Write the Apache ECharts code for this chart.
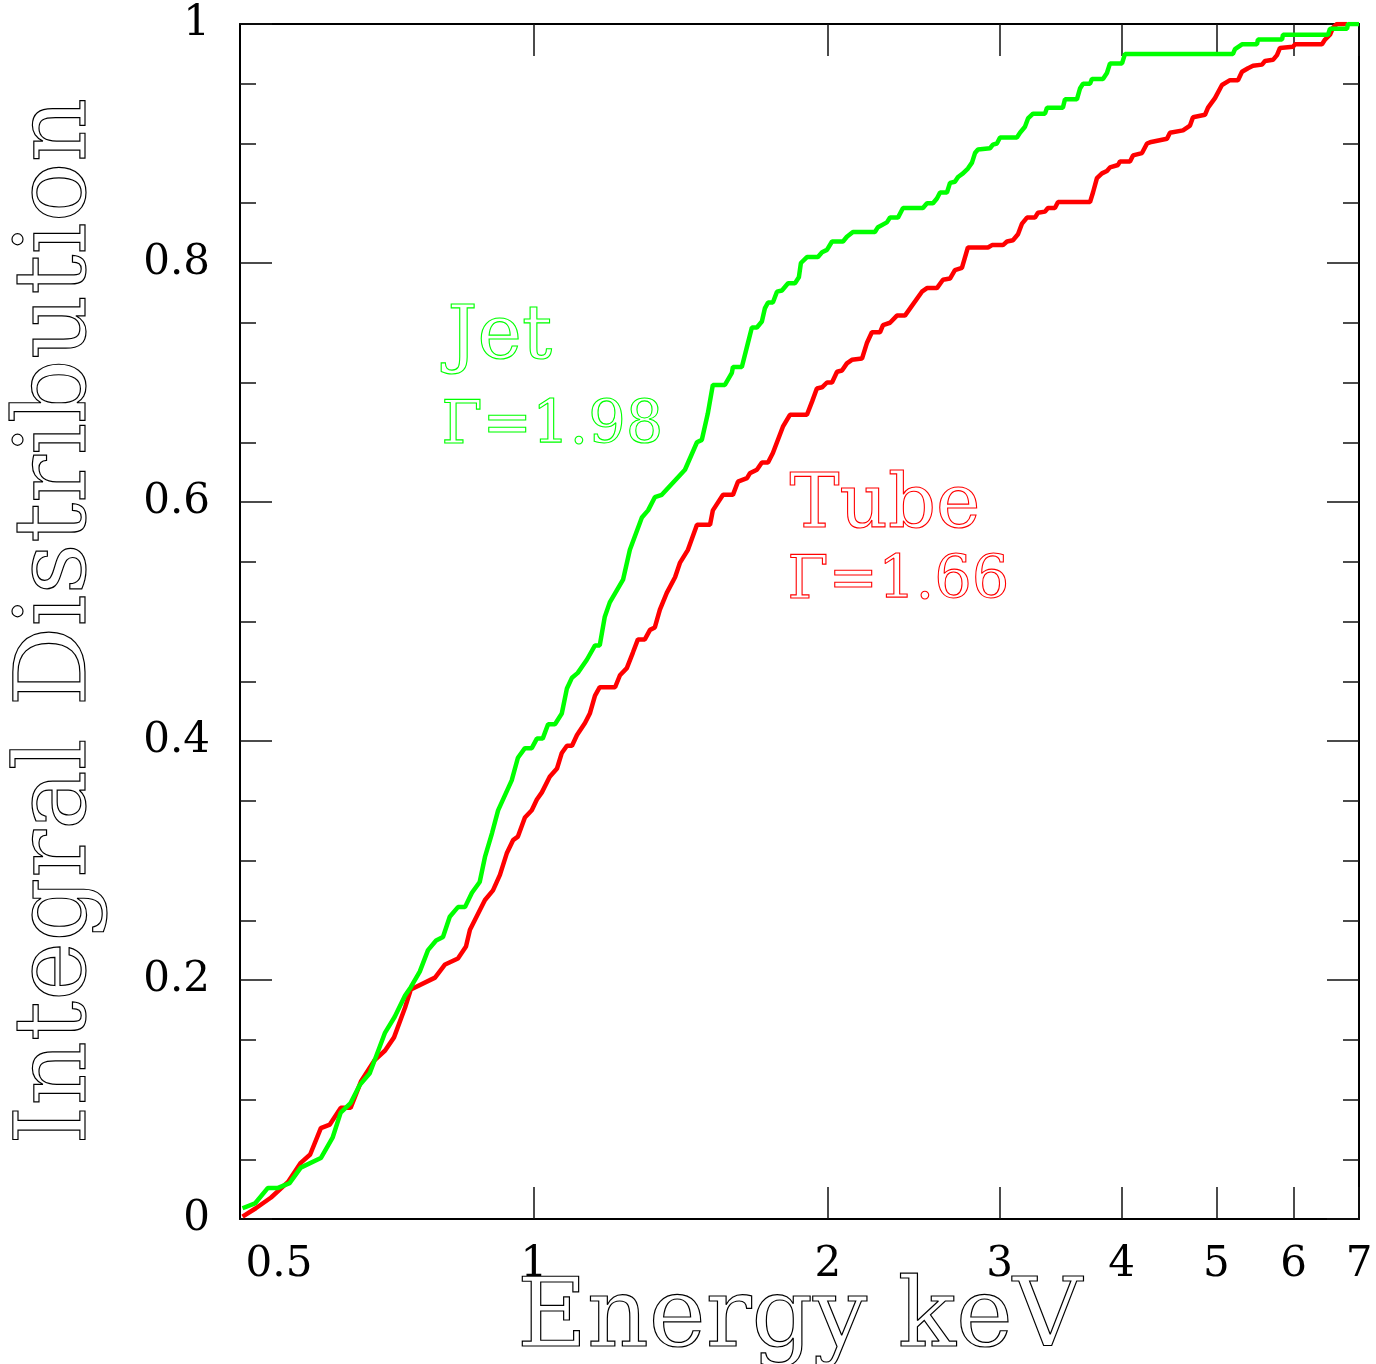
<!DOCTYPE html>
<html>
<head>
<meta charset="utf-8">
<script src="https://cdn.jsdelivr.net/npm/echarts@6/dist/echarts.min.js"></script>
<style>
html, body { margin: 0; padding: 0; background: #fff; }
#chart { width: 1376px; height: 1364px; }
</style>
</head>
<body>
<div id="chart"></div>
<script>
// Cumulative photon energy distributions (energy in keV, integral fraction)
const tubeEnergy = [0.503,0.519,0.538,0.560,0.577,0.590,0.605,0.618,0.634,0.649,
  0.665,0.687,0.704,0.719,0.738,0.748,0.792,0.811,0.836,0.852,
  0.860,0.891,0.908,0.923,0.938,0.952,0.963,0.979,0.995,1.007,
  1.019,1.038,1.056,1.068,1.081,1.094,1.107,1.128,1.141,1.155,
  1.168,1.211,1.225,1.245,1.263,1.278,1.299,1.315,1.330,1.346,
  1.368,1.395,1.411,1.438,1.469,1.515,1.525,1.562,1.599,1.618,
  1.653,1.664,1.692,1.712,1.737,1.757,1.799,1.829,1.904,1.927,
  1.949,1.973,1.996,2.020,2.044,2.068,2.092,2.117,2.168,2.193,
  2.219,2.262,2.278,2.316,2.354,2.399,2.497,2.527,2.587,2.624,
  2.668,2.699,2.744,2.783,2.918,2.946,3.023,3.052,3.095,3.132,
  3.162,3.199,3.260,3.283,3.338,3.361,3.417,3.442,3.712,3.738,
  3.773,3.818,3.863,3.891,3.965,3.984,4.079,4.108,4.196,4.246,
  4.276,4.451,4.482,4.622,4.699,4.732,4.868,4.903,4.984,5.067,
  5.164,5.262,5.312,5.388,5.452,5.569,5.608,5.715,5.769,5.810,
  5.991,6.019,6.415,6.461,6.537,6.584,6.646,6.805];
const tubeFrac = [0.002,0.009,0.018,0.031,0.047,0.054,0.076,0.079,0.093,0.093,
  0.115,0.133,0.141,0.152,0.177,0.192,0.202,0.213,0.218,0.228,
  0.242,0.267,0.275,0.288,0.306,0.317,0.320,0.336,0.342,0.351,
  0.357,0.370,0.377,0.390,0.396,0.396,0.405,0.415,0.423,0.438,
  0.445,0.445,0.455,0.461,0.474,0.485,0.485,0.493,0.495,0.510,
  0.524,0.537,0.549,0.560,0.581,0.581,0.593,0.606,0.606,0.617,
  0.620,0.624,0.627,0.633,0.633,0.641,0.663,0.673,0.673,0.684,
  0.695,0.696,0.700,0.700,0.709,0.710,0.716,0.719,0.720,0.733,
  0.742,0.742,0.748,0.750,0.756,0.756,0.776,0.779,0.779,0.786,
  0.787,0.794,0.796,0.813,0.813,0.815,0.815,0.818,0.819,0.824,
  0.833,0.838,0.838,0.842,0.843,0.846,0.846,0.851,0.851,0.859,
  0.871,0.875,0.877,0.880,0.882,0.885,0.885,0.890,0.892,0.900,
  0.901,0.904,0.909,0.911,0.915,0.922,0.924,0.930,0.938,0.949,
  0.953,0.953,0.960,0.963,0.965,0.966,0.969,0.970,0.974,0.980,
  0.981,0.983,0.983,0.987,0.991,0.997,1.000,1.000];

const jetEnergy = [0.503,0.518,0.534,0.547,0.562,0.577,0.605,0.622,0.634,0.649,
  0.663,0.679,0.704,0.720,0.738,0.748,0.764,0.779,0.794,0.807,
  0.820,0.836,0.850,0.864,0.880,0.891,0.906,0.919,0.949,0.963,
  0.979,0.995,1.007,1.021,1.034,1.051,1.068,1.081,1.094,1.109,
  1.133,1.155,1.168,1.182,1.196,1.234,1.254,1.290,1.309,1.330,
  1.352,1.428,1.469,1.486,1.507,1.525,1.569,1.595,1.599,1.633,
  1.653,1.672,1.692,1.712,1.724,1.737,1.757,1.774,1.795,1.821,
  1.851,1.868,1.877,1.904,1.954,1.973,1.996,2.020,2.073,2.092,
  2.122,2.235,2.251,2.299,2.316,2.360,2.388,2.503,2.527,2.563,
  2.587,2.606,2.649,2.668,2.699,2.719,2.751,2.783,2.810,2.830,
  2.850,2.863,2.932,2.952,2.980,3.002,3.124,3.147,3.184,3.207,
  3.245,3.338,3.354,3.482,3.499,3.599,3.625,3.651,3.712,3.729,
  3.827,3.863,3.891,4.003,4.031,5.200,5.225,5.312,5.503,5.516,
  5.838,5.851,6.507,6.537,6.805,6.821,7.000];
const jetFrac = [0.009,0.013,0.026,0.026,0.030,0.043,0.051,0.068,0.089,0.097,
  0.112,0.122,0.156,0.169,0.187,0.194,0.207,0.225,0.233,0.236,
  0.253,0.261,0.261,0.273,0.282,0.303,0.323,0.342,0.367,0.386,
  0.394,0.394,0.402,0.402,0.414,0.414,0.423,0.444,0.453,0.457,
  0.468,0.480,0.480,0.504,0.516,0.535,0.560,0.587,0.593,0.604,
  0.606,0.627,0.650,0.652,0.674,0.698,0.698,0.708,0.713,0.713,
  0.730,0.746,0.746,0.751,0.762,0.767,0.767,0.776,0.777,0.783,
  0.783,0.788,0.800,0.805,0.805,0.809,0.811,0.818,0.818,0.822,
  0.826,0.826,0.830,0.834,0.838,0.838,0.846,0.846,0.850,0.850,
  0.854,0.859,0.859,0.867,0.868,0.872,0.875,0.879,0.884,0.892,
  0.895,0.896,0.896,0.899,0.900,0.905,0.905,0.909,0.914,0.921,
  0.925,0.925,0.930,0.930,0.937,0.937,0.946,0.950,0.950,0.954,
  0.954,0.959,0.967,0.967,0.975,0.975,0.979,0.983,0.983,0.987,
  0.987,0.991,0.991,0.996,0.996,1.000,1.000];

// Energy axis (keV): tick marks and labels
const xTickValues = [1, 2, 3, 4, 5, 6, 7];
const xLabelValues = [0.5, 1, 2, 3, 4, 5, 6, 7];
const xRange = [0.5, 7];

const SERIF = '"DejaVu Serif", "Liberation Serif", serif';
const lg = Math.log10;

// The energy axis is logarithmic: positions are log10(E) on a value axis.
function toPairs(energy, frac) {
  return energy.map((e, i) => [lg(e), frac[i]]);
}
function energyText(v) {
  const e = Math.pow(10, v);
  let best = xLabelValues[0];
  xLabelValues.forEach(c => { if (Math.abs(c - e) < Math.abs(best - e)) best = c; });
  return String(best);
}

const xBase = {
  type: 'value',
  min: lg(xRange[0]),
  max: lg(xRange[1]),
  splitLine: { show: false },
  axisLine: { show: true, onZero: false, lineStyle: { color: '#000', width: 2 } },
  axisTick: {
    show: true, inside: true, length: 32,
    customValues: xTickValues.map(lg),
    lineStyle: { color: '#111', width: 1.5 }
  }
};
const yBase = {
  type: 'value',
  min: 0, max: 1, interval: 0.2,
  splitLine: { show: false },
  axisLine: { show: true, onZero: false, lineStyle: { color: '#000', width: 2 } },
  axisTick: { show: true, inside: true, length: 32, lineStyle: { color: '#111', width: 1.5 } },
  minorTick: { show: true, splitNumber: 4, length: 16, lineStyle: { color: '#111', width: 1.5 } }
};

const chart = echarts.init(document.getElementById('chart'), null, { renderer: 'canvas' });

chart.setOption({
  animation: false,
  backgroundColor: '#fff',
  grid: { left: 240, top: 24, right: 17, bottom: 145, containLabel: false, outerBoundsMode: 'none' },
  xAxis: [
    Object.assign({}, xBase, {
      position: 'bottom',
      name: 'Energy keV',
      nameLocation: 'middle',
      nameGap: 54,
      nameMoveOverlap: false,
      nameTextStyle: {
        fontFamily: SERIF, fontSize: 96,
        color: 'rgba(0,0,0,0)', textBorderColor: '#000', textBorderWidth: 1.2
      },
      axisLabel: {
        show: true,
        margin: 25,
        customValues: xLabelValues.map(lg),
        formatter: function (v) {
          const t = energyText(v);
          return t === '0.5' ? '{first|' + t + '}' : '{n|' + t + '}';
        },
        rich: {
          first: { fontFamily: SERIF, fontSize: 42, color: '#000', padding: [0, 0, 0, 78] },
          n: { fontFamily: SERIF, fontSize: 42, color: '#000' }
        }
      }
    }),
    Object.assign({}, xBase, {
      position: 'top',
      axisLabel: { show: false }
    })
  ],
  yAxis: [
    Object.assign({}, yBase, {
      position: 'left',
      name: 'Integral Distribution',
      nameLocation: 'middle',
      nameRotate: 90,
      nameGap: 131,
      nameMoveOverlap: false,
      nameTextStyle: {
        fontFamily: SERIF, fontSize: 100,
        color: 'rgba(0,0,0,0)', textBorderColor: '#000', textBorderWidth: 1.2
      },
      axisLabel: {
        show: true, margin: 30,
        fontFamily: SERIF, fontSize: 42, color: '#000'
      }
    }),
    Object.assign({}, yBase, {
      position: 'right',
      axisLabel: { show: false }
    })
  ],
  graphic: [
    { type: 'text', left: 447, top: 300, silent: true,
      style: { text: 'Jet', font: '75px ' + SERIF, fill: 'rgba(0,0,0,0)', stroke: '#00ff00', lineWidth: 1.1 } },
    { type: 'text', left: 441, top: 398, silent: true,
      style: { text: 'Γ=1.98', font: '59px ' + SERIF, fill: 'rgba(0,0,0,0)', stroke: '#00ff00', lineWidth: 1.1 } },
    { type: 'text', left: 789, top: 469, silent: true,
      style: { text: 'Tube', font: '75px ' + SERIF, fill: 'rgba(0,0,0,0)', stroke: '#ff0000', lineWidth: 1.1 } },
    { type: 'text', left: 787, top: 553, silent: true,
      style: { text: 'Γ=1.66', font: '59px ' + SERIF, fill: 'rgba(0,0,0,0)', stroke: '#ff0000', lineWidth: 1.1 } }
  ],
  series: [
    {
      name: 'Tube',
      type: 'line',
      xAxisIndex: 0, yAxisIndex: 0,
      data: toPairs(tubeEnergy, tubeFrac),
      showSymbol: false,
      lineStyle: { color: '#ff0000', width: 4.5 },
      z: 3
    },
    {
      name: 'Jet',
      type: 'line',
      xAxisIndex: 0, yAxisIndex: 0,
      data: toPairs(jetEnergy, jetFrac),
      showSymbol: false,
      lineStyle: { color: '#00ff00', width: 4.5 },
      z: 4
    }
  ]
});
</script>
</body>
</html>
